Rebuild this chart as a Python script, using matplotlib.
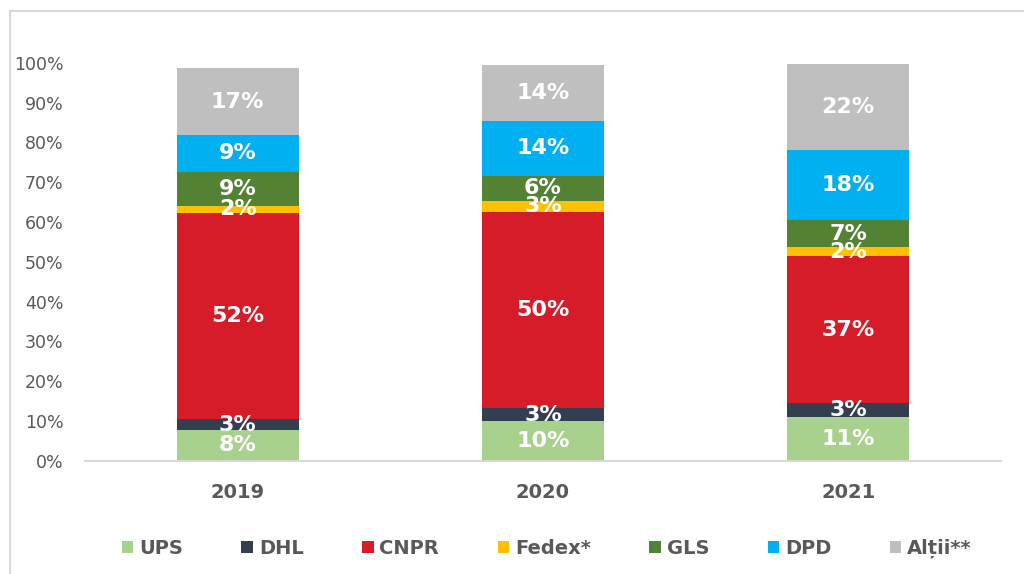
import numpy as np
import matplotlib
matplotlib.use("Agg")
import matplotlib.pyplot as plt
from matplotlib.lines import Line2D
from matplotlib.patches import Patch
from matplotlib.ticker import FuncFormatter

plt.rcParams['font.family'] = ['DejaVu Sans']

# data (share of market, %)
years = ['2019', '2020', '2021']
companies = ['UPS', 'DHL', 'CNPR', 'Fedex*', 'GLS', 'DPD', 'Alții**']
ups = [7.6, 10.0, 11.0]
dhl = [2.8, 3.1, 3.4]
cnpr = [51.8, 49.5, 37.0]
fedex = [1.9, 2.7, 2.2]
gls = [8.6, 6.3, 7.0]
dpd = [9.2, 13.9, 17.6]
altii = [16.8, 14.0, 21.6]
series = [ups, dhl, cnpr, fedex, gls, dpd, altii]
colors = ['#A9D18E', '#333F50', '#D51C28', '#FFC000', '#548235', '#00B0F0', '#BFBFBF']

fig = plt.figure(figsize=(10.24, 5.74), dpi=100)
ax = fig.add_axes([0.0830, 0.1977, 0.8945, 0.7272])

x = np.arange(len(years))
bottom = np.zeros(len(years))
for vals, col in zip(series, colors):
    vals = np.array(vals)
    ax.bar(x, vals, 0.4, bottom=bottom, color=col, edgecolor='none')
    for xi, b, v in zip(x, bottom, vals):
        ax.text(xi, b + v / 2, '%d%%' % round(v), ha='center', va='center',
                color='white', fontsize=16, fontweight='bold')
    bottom += vals

ax.set_xlim(-0.5, 2.5)
ax.set_ylim(0, 105)
ax.set_yticks(np.arange(0, 101, 10))
ax.yaxis.set_major_formatter(FuncFormatter(lambda v, pos: '%d%%' % v))
ax.set_xticks(x)
ax.set_xticklabels(years, fontsize=14, fontweight='bold', color='#595959')
ax.tick_params(axis='y', length=0, pad=15.5, labelsize=12.5, labelcolor='#595959')
ax.tick_params(axis='x', length=0, pad=16)

for s in ['top', 'right', 'left']:
    ax.spines[s].set_visible(False)
ax.spines['bottom'].set_color('#D9D9D9')
ax.spines['bottom'].set_linewidth(1.5)

# legend
handles = [Patch(facecolor=c, edgecolor='none') for c in colors]
leg = fig.legend(handles, companies, loc='center', bbox_to_anchor=(0.534, 0.044),
                 ncol=7, frameon=False, handlelength=0.6, handleheight=0.6,
                 handletextpad=0.3, columnspacing=3.0,
                 prop={'size': 14, 'weight': 'bold'})
for t in leg.get_texts():
    t.set_color('#595959')

# outer frame (left and top edges visible)
fig.add_artist(Line2D([9.5 / 1024, 9.5 / 1024], [0, 1 - 11 / 574], color='#D9D9D9', lw=1.5))
fig.add_artist(Line2D([9.5 / 1024, 1], [1 - 11 / 574, 1 - 11 / 574], color='#D9D9D9', lw=1.5))

fig.savefig('out.png', dpi=100)
